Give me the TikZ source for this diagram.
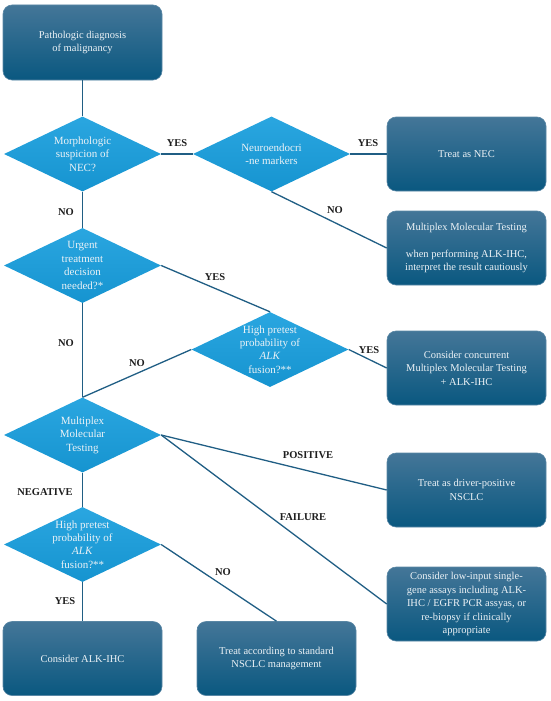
\documentclass[tikz,border=0pt]{standalone}
\usepackage{fontspec}
\setmainfont{Liberation Serif}
\usetikzlibrary{shapes.geometric}
\definecolor{boxtop}{RGB}{68,118,152}
\definecolor{boxbot}{RGB}{10,88,128}
\definecolor{boxedge}{RGB}{90,135,165}
\definecolor{diatop}{RGB}{42,166,224}
\definecolor{diabot}{RGB}{22,148,208}
\definecolor{conn}{RGB}{32,94,132}
\definecolor{boxtext}{RGB}{236,242,246}
\definecolor{lbl}{RGB}{30,30,30}
\tikzset{
  stepbox/.style={rectangle, rounded corners=9pt, minimum width=159pt, minimum height=74pt,
    top color=boxtop, bottom color=boxbot, draw=boxedge, line width=0.6pt,
    text=boxtext, align=center, inner sep=2pt,
    font=\fontsize{10.5}{13.5}\selectfont},
  decide/.style={diamond, minimum width=157pt, minimum height=75pt, inner sep=0pt,
    top color=diatop, bottom color=diabot, draw=none},
  decidetext/.style={text=boxtext, align=center, inner sep=0pt,
    font=\fontsize{11}{13.4}\selectfont},
  lab/.style={text=lbl, font=\bfseries\fontsize{10.5}{12}\selectfont, inner sep=1pt},
  link/.style={draw=conn, line width=1.3pt}
}
\begin{document}
\begin{tikzpicture}[x=1pt,y=-1pt]
\useasboundingbox (0,0) rectangle (550,701);
% boxes
\node[stepbox, minimum height=75pt] (b1) at (82.5,42.5) {Pathologic diagnosis\\of malignancy};
\node[stepbox] (bnec) at (466.5,154) {Treat as NEC};
\node[stepbox] (bmmt) at (466.5,248) {Multiplex Molecular Testing\\[13.5pt]when performing ALK-IHC,\\interpret the result cautiously};
\node[stepbox] (bconc) at (466.5,368) {Consider concurrent\\Multiplex Molecular Testing\\+ ALK-IHC};
\node[stepbox] (bpos) at (466.5,490) {Treat as driver-positive\\NSCLC};
\node[stepbox] (blow) at (466.5,604) {Consider low-input single-\\gene assays including ALK-\\IHC / EGFR PCR assyas, or\\re-biopsy if clinically\\appropriate};
\node[stepbox] (balk) at (82.5,658.5) {Consider ALK-IHC};
\node[stepbox] (bstd) at (276.5,658.5) {Treat according to standard\\NSCLC management};
% diamonds
\node[decide] (d1) at (82.5,154) {};
\node[decide] (d2) at (271.5,154) {};
\node[decide] (d3) at (82.5,265.5) {};
\node[decide] (d4) at (270,349.5) {};
\node[decide] (d5) at (82.5,435) {};
\node[decide] (d6) at (82.5,544.5) {};
\node[decidetext] (t1) at (d1.center) {Morphologic\\suspicion of\\NEC?};
\node[decidetext] (t2) at (d2.center) {Neuroendocri\\-ne markers};
\node[decidetext] (t3) at (d3.center) {Urgent\\treatment\\decision\\needed?*};
\node[decidetext] (t4) at (d4.center) {High pretest\\probability of\\\textit{ALK}\\fusion?**};
\node[decidetext] (t5) at (d5.center) {Multiplex\\Molecular\\Testing};
\node[decidetext] (t6) at (d6.center) {High pretest\\probability of\\\textit{ALK}\\fusion?**};
% connectors
\draw[link] (b1.south) -- (d1.north);
\draw[link] (d1.east) -- (d2.west);
\draw[link] (d2.east) -- (bnec.west);
\draw[link] (d2.south) -- (bmmt.west);
\draw[link] (d1.south) -- (d3.north);
\draw[link] (d3.east) -- (d4.north);
\draw[link] (d3.south) -- (d5.north);
\draw[link] (d4.west) -- (d5.north);
\draw[link] (d4.east) -- (bconc.west);
\draw[link] (d5.east) -- (bpos.west);
\draw[link] (d5.east) -- (blow.west);
\draw[link] (d5.south) -- (d6.north);
\draw[link] (d6.south) -- (balk.north);
\draw[link] (d6.east) -- (bstd.north);
% labels
\node[lab] (l1) at (177,143) {YES};
\node[lab] (l2) at (368,143) {YES};
\node[lab] (l3) at (335,210) {NO};
\node[lab] (l4) at (66,212) {NO};
\node[lab] (l5) at (215,277) {YES};
\node[lab] (l6) at (66,343) {NO};
\node[lab] (l7) at (137,363) {NO};
\node[lab] (l8) at (369,350) {YES};
\node[lab] (l9) at (308,455) {POSITIVE};
\node[lab] (l10) at (303,517) {FAILURE};
\node[lab] (l11) at (45,492) {NEGATIVE};
\node[lab] (l12) at (223,572) {NO};
\node[lab] (l13) at (65,601) {YES};
\end{tikzpicture}
\end{document}
